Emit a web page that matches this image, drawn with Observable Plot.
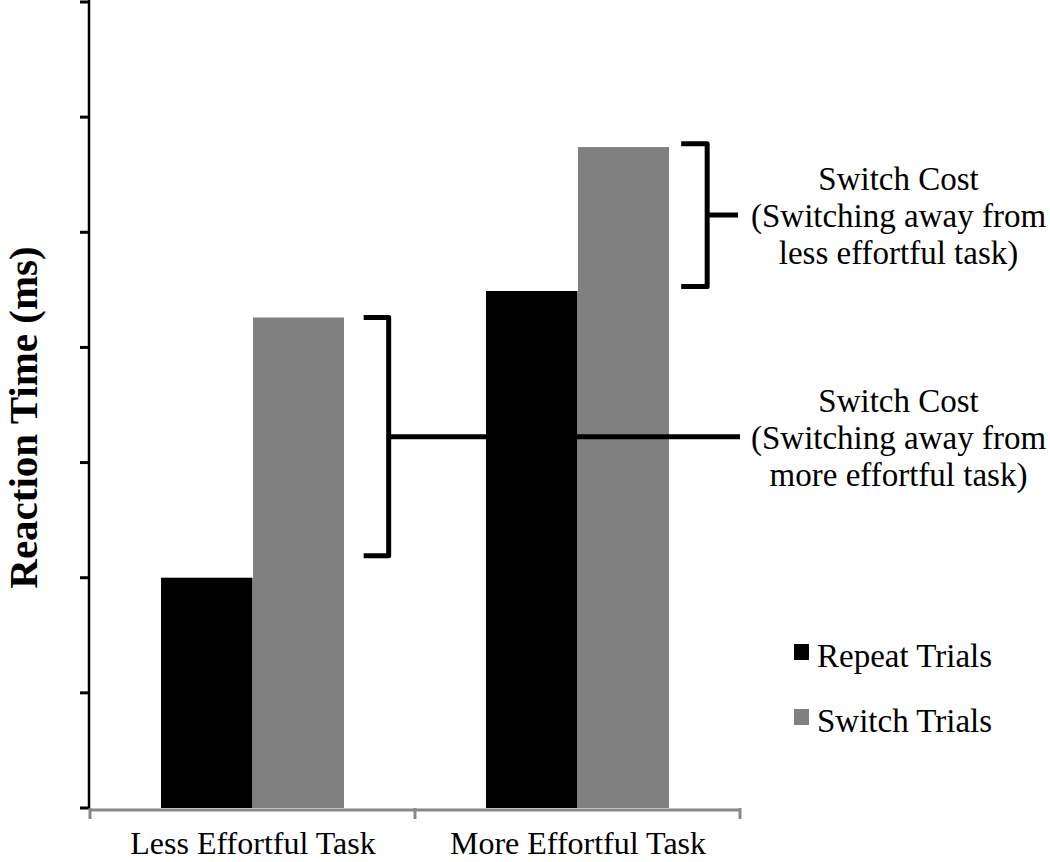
<!DOCTYPE html>
<html><head><meta charset="utf-8">
<script src="https://cdn.jsdelivr.net/npm/d3@7"></script>
<script src="https://cdn.jsdelivr.net/npm/@observablehq/plot@0.6"></script>
<style>
html,body{margin:0;padding:0;background:#fff;}
#chart svg{display:block;}
</style></head><body><div id="chart"></div>
<script>
// ---- data ----
const categories = ["Less Effortful Task", "More Effortful Task"];
const series = ["Repeat Trials", "Switch Trials"];
const repeatValues = [200, 449];
const switchValues = [426, 574];
const yTicks = [0, 100, 200, 300, 400, 500, 600, 700];
const seriesColors = ["#000000", "#808080"];
// switch-cost brackets (one per category), in data units
const bracketLow = [219, 453];
const bracketHigh = [426, 577];
const bracketLabels = [
  "Switch Cost\n(Switching away from\nmore effortful task)",
  "Switch Cost\n(Switching away from\nless effortful task)"
];
const yTitle = "Reaction Time (ms)";

const rows = categories.flatMap((c, i) => [
  {cat: c, s: series[0], v: repeatValues[i]},
  {cat: c, s: series[1], v: switchValues[i]}
]);
const labelRows = categories.map((c, i) => ({y: (bracketLow[i] + bracketHigh[i]) / 2, text: bracketLabels[i]}));

const FONT = '"Liberation Serif", "Times New Roman", serif';

function decorations(index, scales, values, dims) {
  const x = scales.x, y = scales.y;
  const x0 = dims.marginLeft, xEnd = dims.width - dims.marginRight;
  const bw = x.bandwidth ? x.bandwidth() : (xEnd - x0) / categories.length;
  const g = d3.create("svg:g");
  // y axis line and ticks
  g.append("line").attr("x1", x0).attr("x2", x0).attr("y1", 0).attr("y2", y(0))
    .attr("stroke", "#000").attr("stroke-width", 2.5);
  g.selectAll(null).data(yTicks).join("line")
    .attr("x1", x0 - 9).attr("x2", x0).attr("y1", d => y(d)).attr("y2", d => y(d))
    .attr("stroke", "#000").attr("stroke-width", 3);
  // y title
  const yMid = (y(0) + y(yTicks[yTicks.length - 1])) / 2 + 12.5;
  g.append("text").attr("transform", `translate(24,${yMid}) rotate(-90)`)
    .attr("text-anchor", "middle").attr("dy", "0.32em")
    .attr("font-family", FONT).attr("font-size", 41).attr("font-weight", "bold")
    .attr("fill", "#000").text(yTitle);
  // x boundary ticks
  const bounds = [...categories.map(c => x(c)), x(categories[categories.length - 1]) + bw];
  g.selectAll(null).data(bounds).join("line")
    .attr("x1", d => d).attr("x2", d => d).attr("y1", y(0)).attr("y2", y(0) + 11)
    .attr("stroke", "#888").attr("stroke-width", 3);
  // brackets
  const armStart = [0.842, 0.819], vert = [0.919, 0.899];
  categories.forEach((c, i) => {
    const bx = x(c);
    const a = bx + armStart[i] * bw, v = bx + vert[i] * bw;
    const yl = y(bracketLow[i]), yh = y(bracketHigh[i]), ym = (yl + yh) / 2;
    const end = i === 0 ? xEnd : xEnd - 2;
    g.append("path")
      .attr("d", `M${a},${yh}L${v},${yh}L${v},${yl}L${a},${yl}M${v},${ym}L${end},${ym}`)
      .attr("fill", "none").attr("stroke", "#000").attr("stroke-width", 5)
      .attr("stroke-linejoin", "round");
  });
  // legend
  const lx = xEnd + 54;
  const lBase = [667, 732];
  series.forEach((s, i) => {
    g.append("rect").attr("x", lx).attr("y", lBase[i] - 23).attr("width", 15).attr("height", 16)
      .attr("fill", seriesColors[i]);
    g.append("text").attr("x", lx + 23).attr("y", lBase[i]).attr("text-anchor", "start")
      .attr("font-family", FONT).attr("font-size", 33).attr("fill", "#000").text(s);
  });
  return g.node();
}

const plot = Plot.plot({
  width: 1050,
  height: 862,
  marginLeft: 89,
  marginRight: 310,
  marginTop: 2,
  marginBottom: 54,
  style: {fontFamily: FONT, fontSize: "32px", color: "#000", background: "#fff", overflow: "visible"},
  x: {domain: categories, padding: 0, tickSize: 0, tickPadding: 23, label: null},
  y: {domain: [0, 700], axis: null},
  marks: [
    Plot.barY(rows.filter(d => d.s === series[0]), {x: "cat", y: "v", fill: seriesColors[0], insetLeft: 71, insetRight: 162.5}),
    Plot.barY(rows.filter(d => d.s === series[1]), {x: "cat", y: "v", fill: seriesColors[1], insetLeft: 163, insetRight: 71}),
    Plot.ruleY([0], {stroke: "#888", strokeWidth: 3, dy: 1.5}),
    decorations,
    Plot.text(labelRows, {y: "y", text: "text", frameAnchor: "right", dx: 158, textAnchor: "middle",
      lineAnchor: "middle", lineHeight: 1.12, fontSize: 33, fill: "#000"})
  ]
});
document.getElementById("chart").appendChild(plot);
</script>
</body></html>
